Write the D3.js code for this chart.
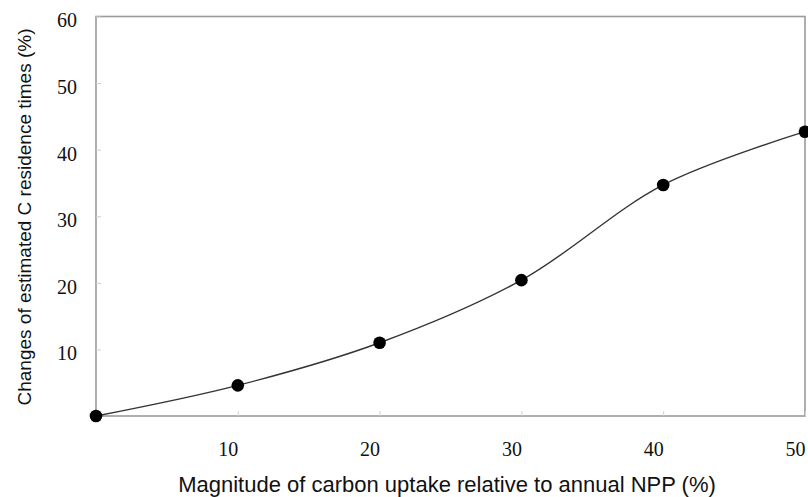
<!DOCTYPE html>
<html>
<head>
<meta charset="utf-8">
<script src="https://cdn.jsdelivr.net/npm/d3@7"></script>
<style>
  html, body { margin: 0; padding: 0; background: #fff; }
  svg { display: block; }
</style>
</head>
<body>
<svg id="chart" width="808" height="497"></svg>
<script>
// Carbon uptake magnitude (% of annual NPP) vs. change in estimated C residence time (%)
const uptake = [0, 10, 20, 30, 40, 50];
const residenceChange = [0, 4.6, 11.0, 20.4, 34.7, 42.7];
const xTicks = [10, 20, 30, 40, 50];
const yTicks = [10, 20, 30, 40, 50, 60];
const xTitle = "Magnitude of carbon uptake relative to annual NPP (%)";
const yTitle = "Changes of estimated C residence times (%)";

const svg = d3.select("#chart");
const m = { left: 96, right: 805, top: 16.5, bottom: 416 };

const x = d3.scaleLinear().domain([0, 50]).range([m.left, m.right]);
const y = d3.scaleLinear().domain([0, 60]).range([m.bottom, m.top]);

const frameColor = "#9a9a9a";

// plot frame
svg.append("rect")
  .attr("x", m.left).attr("y", m.top)
  .attr("width", m.right - m.left).attr("height", m.bottom - m.top)
  .attr("fill", "none").attr("stroke", frameColor).attr("stroke-width", 1.6);

// x axis: short inward ticks, labels end at the tick
const xAxis = d3.axisBottom(x).tickValues(xTicks).tickSize(-5).tickPadding(0).tickFormat(d3.format("d"));
const gx = svg.append("g").attr("transform", `translate(0,${m.bottom})`).call(xAxis);
gx.select(".domain").remove();
gx.selectAll(".tick line").attr("stroke", "#d0d0d0").attr("stroke-width", 1);
gx.selectAll(".tick text")
  .attr("text-anchor", "end").attr("x", 0).attr("y", 0).attr("dy", 40)
  .attr("fill", "#111")
  .style("font-family", "'Liberation Serif', 'Times New Roman', serif")
  .style("font-size", "20px");

// y axis: short inward ticks
const yAxis = d3.axisLeft(y).tickValues(yTicks).tickSize(-5).tickPadding(0).tickFormat(d3.format("d"));
const gy = svg.append("g").attr("transform", `translate(${m.left},0)`).call(yAxis);
gy.select(".domain").remove();
gy.selectAll(".tick line").attr("stroke", "#d0d0d0").attr("stroke-width", 1);
gy.selectAll(".tick text")
  .attr("text-anchor", "end").attr("x", -19).attr("dy", "0.62em").attr("y", -2)
  .attr("fill", "#111")
  .style("font-family", "'Liberation Serif', 'Times New Roman', serif")
  .style("font-size", "20px");

// smoothed series line
const pts = uptake.map((u, i) => [u, residenceChange[i]]);
const line = d3.line()
  .x(d => x(d[0])).y(d => y(d[1]))
  .curve(d3.curveCatmullRom.alpha(0.5));
svg.append("path").datum(pts)
  .attr("d", line)
  .attr("fill", "none").attr("stroke", "#333").attr("stroke-width", 1.4);

// markers
svg.append("g").selectAll("circle").data(pts).join("circle")
  .attr("cx", d => x(d[0])).attr("cy", d => y(d[1]))
  .attr("r", 6.3).attr("fill", "#000");

// axis titles
svg.append("text")
  .attr("x", 447).attr("y", 492)
  .attr("text-anchor", "middle")
  .attr("fill", "#111")
  .style("font-family", "'Liberation Sans', Arial, sans-serif")
  .style("font-size", "22px")
  .text(xTitle);

svg.append("text")
  .attr("transform", "translate(31,217) rotate(-90)")
  .attr("text-anchor", "middle")
  .attr("fill", "#111")
  .style("font-family", "'Liberation Sans', Arial, sans-serif")
  .style("font-size", "19px")
  .text(yTitle);
</script>
</body>
</html>
